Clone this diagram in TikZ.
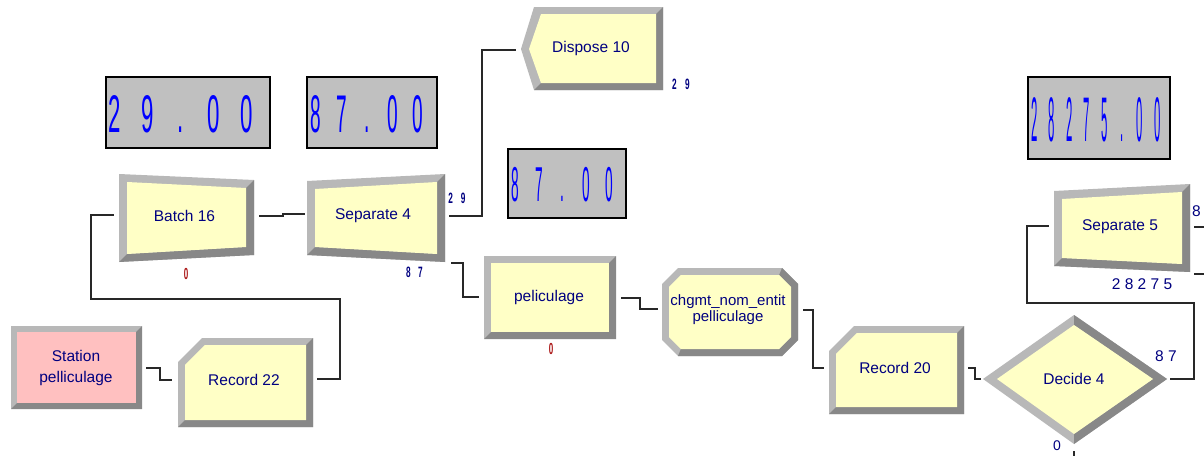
\documentclass[tikz,border=0pt]{standalone}
\usepackage{fontspec}
\setmainfont{Liberation Sans}
\usetikzlibrary{calc}

\definecolor{modyellow}{RGB}{255,255,198}
\definecolor{modpink}{RGB}{255,192,192}
\definecolor{bvlight}{RGB}{184,184,184}
\definecolor{bvdark}{RGB}{136,136,136}
\definecolor{lblnavy}{RGB}{0,0,128}
\definecolor{lcdblue}{RGB}{0,0,255}
\definecolor{dispgray}{RGB}{192,192,192}
\definecolor{qred}{RGB}{170,20,20}
\definecolor{wirecol}{RGB}{40,40,40}

% a row of glyphs, each centred in a cell of fixed width and squeezed horizontally
\newcommand\digrow[3]{%
  \foreach \g in {#3}{\makebox[#1]{\scalebox{#2}[1]{\g}}}%
}

% four-cornered module with a 3D bevel: corners TL, TR, BR, BL, bevel width, face colour
\newcommand\bevelquad[6]{%
  \fill[bvlight] (#1) -- (#2) -- (#3) -- (#4) -- cycle;
  \fill[bvdark] (#2) -- (#3) -- (#4) -- ($(#4)+(#5,-#5)$) -- ($(#3)+(-#5,-#5)$) -- ($(#2)+(-#5,#5)$) -- cycle;
  \fill[#6] ($(#1)+(#5,#5)$) -- ($(#2)+(-#5,#5)$) -- ($(#3)+(-#5,-#5)$) -- ($(#4)+(#5,-#5)$) -- cycle;
}

% record module: box with the top-left corner cut off; x1 y1 x2 y2 cut bevel
\newcommand\bevelrec[6]{%
  \fill[bvlight] ({#1+#5},#2) -- (#3,#2) -- (#3,#4) -- (#1,#4) -- (#1,{#2+#5}) -- cycle;
  \fill[bvdark] (#3,#2) -- (#3,#4) -- (#1,#4) -- ({#1+#6},{#4-#6}) -- ({#3-#6},{#4-#6}) -- ({#3-#6},{#2+#6}) -- cycle;
  \fill[modyellow] ({#1+#5+0.41*#6},{#2+#6}) -- ({#3-#6},{#2+#6}) -- ({#3-#6},{#4-#6}) -- ({#1+#6},{#4-#6}) -- ({#1+#6},{#2+#5+0.41*#6}) -- cycle;
}

% assign module: octagon; x1 y1 x2 y2 cut bevel
\newcommand\beveloct[6]{%
  \pgfmathsetmacro\ic{#5-0.586*#6}%
  \fill[bvlight] ({#1+#5},#2) -- ({#3-#5},#2) -- (#3,{#2+#5}) -- (#3,{#4-#5}) -- ({#3-#5},#4) -- ({#1+#5},#4) -- (#1,{#4-#5}) -- (#1,{#2+#5}) -- cycle;
  \fill[bvdark] ({#3-#5},#2) -- (#3,{#2+#5}) -- (#3,{#4-#5}) -- ({#3-#5},#4) -- ({#1+#5},#4)
     -- ({#1+#6+\ic},{#4-#6}) -- ({#3-#6-\ic},{#4-#6}) -- ({#3-#6},{#4-#6-\ic}) -- ({#3-#6},{#2+#6+\ic}) -- ({#3-#6-\ic},{#2+#6}) -- cycle;
  \fill[modyellow] ({#1+#6+\ic},{#2+#6}) -- ({#3-#6-\ic},{#2+#6}) -- ({#3-#6},{#2+#6+\ic}) -- ({#3-#6},{#4-#6-\ic})
     -- ({#3-#6-\ic},{#4-#6}) -- ({#1+#6+\ic},{#4-#6}) -- ({#1+#6},{#4-#6-\ic}) -- ({#1+#6},{#2+#6+\ic}) -- cycle;
}

\begin{document}
\begin{tikzpicture}[x=1pt,y=-1pt,
  wire/.style={draw=wirecol, line width=1.4pt},
  lbl/.style={text=lblnavy, font=\fontsize{15.5}{18}\selectfont, inner sep=0pt, align=center},
  dispbox/.style={draw=black, line width=1.6pt, fill=dispgray, inner sep=0pt},
  lcd/.style={text=lcdblue, inner sep=0pt},
  cnt/.style={text=lblnavy, inner sep=0pt, font=\bfseries\fontsize{15}{15}\selectfont},
  qcnt/.style={text=qred, inner sep=0pt, font=\bfseries\fontsize{16}{16}\selectfont},
  pcnt/.style={text=lblnavy, inner sep=0pt, font=\fontsize{15.5}{18}\selectfont}]

\useasboundingbox (0,0) rectangle (1204,455);
\clip (0,0) rectangle (1204,455);
\fill[white] (0,0) rectangle (1204,455);

% ---- counter displays ----
\node[dispbox, minimum width=164pt, minimum height=71pt] (disp1) at (188,112.5) {};
\node[lcd, font=\fontsize{53}{53}\selectfont] (disp1v) at (181,114) {\digrow{33pt}{0.42}{2,9,.,0,0}};
\node[dispbox, minimum width=130pt, minimum height=71pt] (disp2) at (372,112.5) {};
\node[lcd, font=\fontsize{53}{53}\selectfont] (disp2v) at (367,114) {\digrow{25.5pt}{0.36}{8,7,.,0,0}};
\node[dispbox, minimum width=118pt, minimum height=69pt] (disp3) at (567,183.5) {};
\node[lcd, font=\fontsize{49}{49}\selectfont] (disp3v) at (562.5,184.5) {\digrow{23.6pt}{0.28}{8,7,.,0,0}};
\node[dispbox, minimum width=142pt, minimum height=82pt] (disp4) at (1099,118) {};
\node[lcd, font=\fontsize{63}{63}\selectfont] (disp4v) at (1095.8,119.5) {\digrow{17.6pt}{0.18}{2,8,2,7,5,.,0,0}};

% ---- modules ----
\bevelquad{11,326}{142,326}{142,409}{11,409}{6}{modpink}
\bevelrec{178}{338}{313}{427}{24}{7}
\bevelquad{119,174}{254,180}{254,255}{119,262}{8}{modyellow}
\bevelquad{307,181}{445,174}{445,262}{307,255}{8}{modyellow}
\bevelquad{484,256}{616,256}{616,339}{484,339}{7}{modyellow}
\beveloct{662}{268}{798}{356}{16}{7}
\bevelrec{829}{326}{964}{414}{25}{7}
\bevelquad{1054,191}{1190,184}{1190,272}{1054,266}{8}{modyellow}

% dispose: pointed on the left
\fill[bvlight] (534,7) -- (663,7) -- (663,90) -- (534,90) -- (521,49) -- cycle;
\fill[bvdark] (663,7) -- (663,90) -- (534,90) -- (541,83) -- (656,83) -- (656,14) -- cycle;
\fill[modyellow] (541,14) -- (656,14) -- (656,83) -- (541,83) -- (529,49) -- cycle;

% decide: diamond
\fill[bvlight] (983,379) -- (1074,315) -- (1167,379) -- (1074,444) -- cycle;
\fill[bvdark] (1074,315) -- (1167,379) -- (1074,444) -- (1074,434) -- (1153,379) -- (1074,325) -- cycle;
\fill[modyellow] (997,379) -- (1074,325) -- (1153,379) -- (1074,434) -- cycle;

% ---- module names ----
\node[lbl, font=\fontsize{15.5}{21}\selectfont] (st) at (76,368) {Station\\pelliculage};
\node[lbl] (r22) at (244,380) {Record 22};
\node[lbl] (b16) at (184.5,216) {Batch 16};
\node[lbl] (s4) at (373,216) {Separate 4};
\node[lbl] (d10) at (591,48) {Dispose 10};
\node[lbl] (pel) at (549,297) {peliculage};
\node[lbl, font=\fontsize{15}{16}\selectfont] (chg) at (728,310) {chgmt\_nom\_entit\\pelliculage};
\node[lbl] (r20) at (895,368) {Record 20};
\node[lbl] (dec4) at (1074,379) {Decide 4};
\node[lbl] (s5) at (1120,227) {Separate 5};

% ---- counts ----
\node[cnt] (s4nA) at (457,198) {\digrow{12.5pt}{0.55}{2,9}};
\node[cnt] (s4nB) at (414.5,272) {\digrow{12pt}{0.55}{8,7}};
\node[cnt] (d10n) at (681,84.5) {\digrow{13pt}{0.55}{2,9}};
\node[qcnt] (b16q) at (186,274) {\scalebox{0.5}[1]{0}};
\node[qcnt] (pelq) at (551,348.5) {\scalebox{0.5}[1]{0}};
\node[pcnt] (s5nB) at (1142,284) {2 8 2 7 5};
\node[pcnt, anchor=west] (s5nA) at (1192,211) {8};
\node[pcnt] (decnT) at (1166,356) {8 7};
\node[pcnt, font=\fontsize{14}{14}\selectfont] (decnF) at (1057,445.5) {0};

% ---- ports ----
\coordinate (stOut) at (146,368);
\coordinate (r22In) at (172,380);
\coordinate (r22Out) at (317,379);
\coordinate (b16In) at (114,215);
\coordinate (b16Out) at (259,216);
\coordinate (s4In) at (305,214);
\coordinate (s4OutA) at (449,216);
\coordinate (s4OutB) at (451,263);
\coordinate (d10In) at (516,50);
\coordinate (pelIn) at (479,297);
\coordinate (pelOut) at (621,298);
\coordinate (chgIn) at (658,309);
\coordinate (chgOut) at (803,310);
\coordinate (r20In) at (824,368);
\coordinate (r20Out) at (968,368);
\coordinate (decIn) at (981,379);
\coordinate (decOutT) at (1170,379);
\coordinate (decOutF) at (1074,451);
\coordinate (decOffF) at (1074,462);
\coordinate (s5In) at (1049,226);
\coordinate (s5OutA) at (1194,227);
\coordinate (s5OutB) at (1194,274);
\coordinate (s5OffA) at (1212,227);
\coordinate (s5OffB) at (1212,274);

% ---- connectors ----
\draw[wire] (stOut) -- (160,368) -- (160,380) -- (r22In);
\draw[wire] (r22Out) -- (340,379) -- (340,299) -- (91,299) -- (91,215) -- (b16In);
\draw[wire] (b16Out) -- (283,216) -- (283,214) -- (s4In);
\draw[wire] (s4OutA) -- (482,216) -- (482,50) -- (d10In);
\draw[wire] (s4OutB) -- (463,263) -- (463,297) -- (pelIn);
\draw[wire] (pelOut) -- (640,298) -- (640,309) -- (chgIn);
\draw[wire] (chgOut) -- (813,310) -- (813,368) -- (r20In);
\draw[wire] (r20Out) -- (975,368) -- (975,379) -- (decIn);
\draw[wire] (decOutT) -- (1194,379) -- (1194,303) -- (1027,303) -- (1027,226) -- (s5In);
\draw[wire] (decOutF) -- (decOffF);
\draw[wire] (s5OutA) -- (s5OffA);
\draw[wire] (s5OutB) -- (s5OffB);
\end{tikzpicture}
\end{document}
